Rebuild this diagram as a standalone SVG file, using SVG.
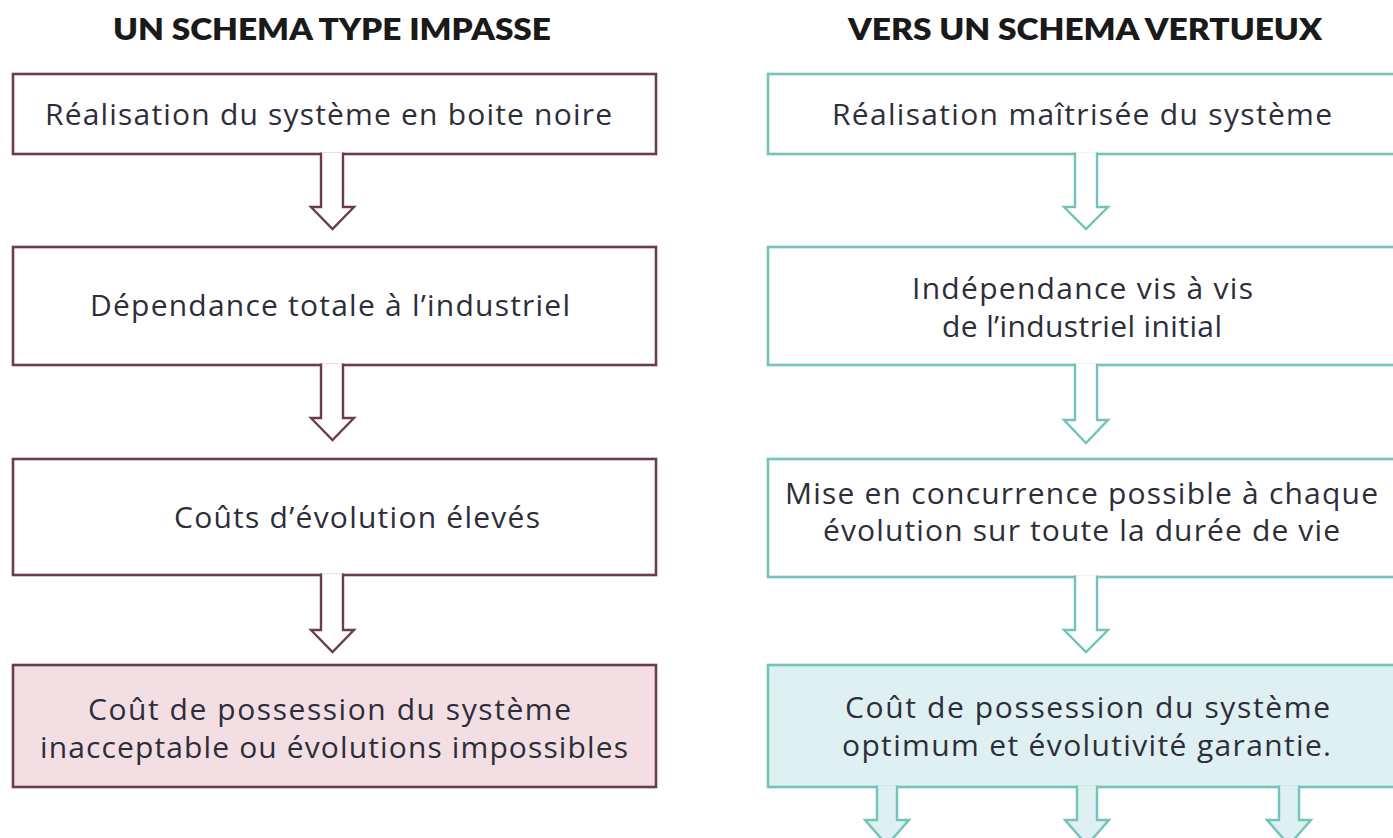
<svg xmlns="http://www.w3.org/2000/svg" width="1393" height="838" viewBox="0 0 1393 838">
<style>
.t{font-family:"Open Sans","Liberation Sans",sans-serif;font-size:30px;fill:#2e2e3a;text-anchor:middle}
.h{font-family:Lato,"Liberation Sans",sans-serif;font-size:30px;font-weight:800;fill:#1a1a1a;text-anchor:middle}
.bl{fill:#fff;stroke:#6b3d4c;stroke-width:2.6}
.bl4{fill:#f3dee4;stroke:#6b3d4c;stroke-width:2.6}
.br{fill:#fff;stroke:#72c3ba;stroke-width:2.6}
.br4{fill:#dff0f2;stroke:#72c3ba;stroke-width:2.6}
.al{fill:#fff;stroke:#6b3d4c;stroke-width:2.4;stroke-linejoin:miter}
.ar{fill:#fff;stroke:#72c3ba;stroke-width:2.4}
.ar4{fill:#dff0f2;stroke:#72c3ba;stroke-width:2.4}
</style>
<rect width="1393" height="838" fill="#fff"/>
<text class="h" x="332" y="40" textLength="438" lengthAdjust="spacingAndGlyphs">UN SCHEMA TYPE IMPASSE</text>
<text class="h" x="1085" y="40" textLength="474" lengthAdjust="spacingAndGlyphs">VERS UN SCHEMA VERTUEUX</text>
<g id="L1"><rect class="bl" x="13" y="74" width="643" height="80"/><text class="t" x="328.5" y="125" textLength="567">Réalisation du système en boite noire</text></g>
<g id="L2"><rect class="bl" x="13" y="247" width="643" height="118"/><text class="t" x="330" y="316" textLength="480">Dépendance totale à l’industriel</text></g>
<g id="L3"><rect class="bl" x="13" y="459" width="643" height="116"/><text class="t" x="357" y="528" textLength="366">Coûts d’évolution élevés</text></g>
<g id="L4"><rect class="bl4" x="13" y="665" width="643" height="122"/><text class="t" x="329.5" y="720" textLength="483">Coût de possession du système</text><text class="t" x="334" y="758" textLength="588">inacceptable ou évolutions impossibles</text></g>
<g id="R1"><rect class="br" x="768" y="74" width="640" height="80"/><text class="t" x="1082" y="125" textLength="500">Réalisation maîtrisée du système</text></g>
<g id="R2"><rect class="br" x="768" y="247" width="640" height="118"/><text class="t" x="1082.5" y="299" textLength="341">Indépendance vis à vis</text><text class="t" x="1082" y="337" textLength="280">de l’industriel initial</text></g>
<g id="R3"><rect class="br" x="768" y="459" width="640" height="118"/><text class="t" x="1081.5" y="504" textLength="593">Mise en concurrence possible à chaque</text><text class="t" x="1081.5" y="541" textLength="517">évolution sur toute la durée de vie</text></g>
<g id="R4"><rect class="br4" x="768" y="665" width="640" height="122"/><text class="t" x="1087.5" y="718" textLength="485">Coût de possession du système</text><text class="t" x="1086.5" y="756" textLength="489">optimum et évolutivité garantie.</text></g>
<g id="connectors">
<path class="al" d="M321 152.5V207H311L332.5 229L354 207H343V152.5"/>
<path class="al" d="M321 363.5V418H311L332.5 440L354 418H343V363.5"/>
<path class="al" d="M321 573.5V630H311L332.5 652L354 630H343V573.5"/>
<path class="ar" d="M1075 152.5V207H1064L1086 229L1108 207H1097V152.5"/>
<path class="ar" d="M1075 363.5V420H1064L1086 443L1108 420H1097V363.5"/>
<path class="ar" d="M1075 575.5V630H1064L1086 652L1108 630H1097V575.5"/>
<path class="ar4" d="M877 785.5V820H865L887 845L909 820H897V785.5"/>
<path class="ar4" d="M1077 785.5V820H1065L1087 845L1109 820H1097V785.5"/>
<path class="ar4" d="M1279 785.5V820H1267L1289 845L1311 820H1299V785.5"/>
</g>
</svg>
